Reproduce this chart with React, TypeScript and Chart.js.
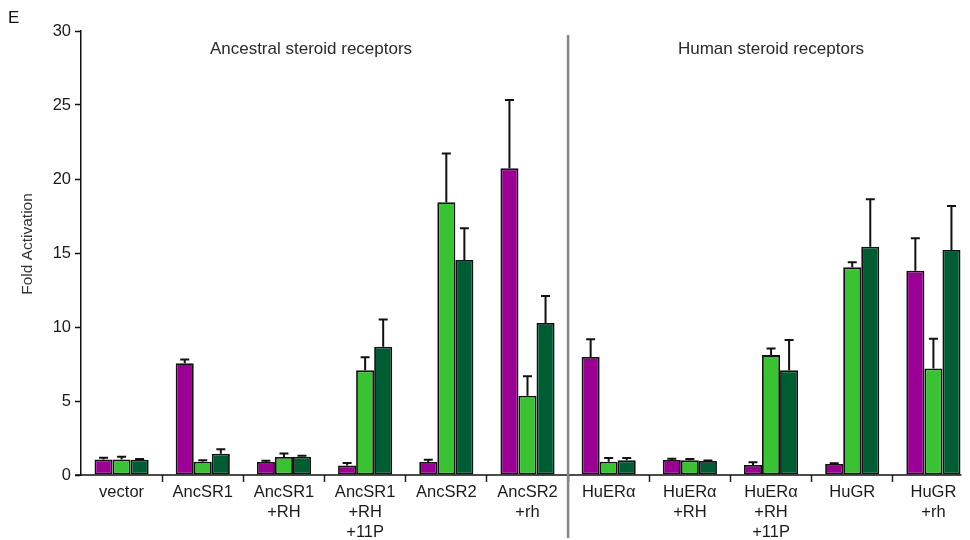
import React, { useEffect, useRef } from "react";
import { Chart, registerables } from "chart.js";

Chart.register(...registerables);

const categories: (string | string[])[] = [
  "vector",
  "AncSR1",
  ["AncSR1", "+RH"],
  ["AncSR1", "+RH", "+11P"],
  "AncSR2",
  ["AncSR2", "+rh"],
  "HuERα",
  ["HuERα", "+RH"],
  ["HuERα", "+RH", "+11P"],
  "HuGR",
  ["HuGR", "+rh"],
];

const magentaValues = [1.05, 7.55, 0.88, 0.65, 0.88, 20.72, 7.97, 1.01, 0.68, 0.74, 13.8];
const magentaErrors = [0.12, 0.25, 0.09, 0.16, 0.15, 4.62, 1.2, 0.09, 0.18, 0.06, 2.2];
const lightGreenValues = [1.05, 0.9, 1.22, 7.07, 18.43, 5.36, 0.9, 0.99, 8.1, 14.03, 7.2];
const lightGreenErrors = [0.18, 0.1, 0.24, 0.88, 3.3, 1.31, 0.25, 0.09, 0.44, 0.34, 2.01];
const darkGreenValues = [1.03, 1.44, 1.24, 8.67, 14.53, 10.27, 0.99, 0.95, 7.07, 15.43, 15.2];
const darkGreenErrors = [0.05, 0.3, 0.06, 1.83, 2.14, 1.83, 0.16, 0.03, 2.05, 3.2, 2.98];

const yTicks = [0, 5, 10, 15, 20, 25, 30];
const groupTitles = ["Ancestral steroid receptors", "Human steroid receptors"];
const yTitle = "Fold Activation";
const panelLetter = "E";

const FONT = "'Liberation Sans', Arial, sans-serif";

const errorBarPlugin = {
  id: "errorBars",
  afterDatasetsDraw(chart: any) {
    const ctx = chart.ctx;
    const yScale = chart.scales.y;
    const errs = [magentaErrors, lightGreenErrors, darkGreenErrors];
    ctx.save();
    ctx.strokeStyle = "#111";
    ctx.lineWidth = 2;
    chart.data.datasets.forEach((ds: any, i: number) => {
      const meta = chart.getDatasetMeta(i);
      meta.data.forEach((el: any, j: number) => {
        const v = ds.data[j];
        const e = errs[i][j];
        const yTop = yScale.getPixelForValue(v);
        const yErr = yScale.getPixelForValue(v + e);
        ctx.beginPath();
        ctx.moveTo(el.x, yTop);
        ctx.lineTo(el.x, yErr);
        ctx.moveTo(el.x - 4.5, yErr);
        ctx.lineTo(el.x + 4.5, yErr);
        ctx.stroke();
      });
    });
    ctx.restore();
  },
};

const decorPlugin = {
  id: "decor",
  afterDraw(chart: any) {
    const ctx = chart.ctx;
    const xs = chart.scales.x;
    const area = chart.chartArea;
    ctx.save();
    // x axis line
    const lastMeta = chart.getDatasetMeta(2);
    const lastBar = lastMeta.data[lastMeta.data.length - 1];
    const xEnd = lastBar.x + lastBar.width / 2 + 1;
    ctx.strokeStyle = "#111";
    ctx.lineWidth = 1.5;
    ctx.beginPath();
    ctx.moveTo(area.left - 6, area.bottom);
    ctx.lineTo(xEnd, area.bottom);
    ctx.stroke();
    // divider
    const xDiv = (xs.getPixelForValue(5) + xs.getPixelForValue(6)) / 2;
    ctx.strokeStyle = "#858585";
    ctx.lineWidth = 2.5;
    ctx.beginPath();
    ctx.moveTo(xDiv, 35);
    ctx.lineTo(xDiv, 538);
    ctx.stroke();
    // texts
    ctx.fillStyle = "#2a2a2a";
    ctx.font = `17px ${FONT}`;
    ctx.textAlign = "center";
    ctx.textBaseline = "middle";
    ctx.fillText(groupTitles[0], 311, 49);
    ctx.fillText(groupTitles[1], 771, 49);
    ctx.font = `17px ${FONT}`;
    ctx.textAlign = "left";
    ctx.fillStyle = "#111";
    ctx.fillText(panelLetter, 8, 18);
    ctx.save();
    ctx.translate(28, 244);
    ctx.rotate(-Math.PI / 2);
    ctx.textAlign = "center";
    ctx.fillStyle = "#333";
    ctx.font = `15.5px ${FONT}`;
    ctx.fillText(yTitle, 0, 0);
    ctx.restore();
    ctx.restore();
  },
};

export default function App() {
  const ref = useRef<HTMLCanvasElement>(null);
  useEffect(() => {
    if (!ref.current) return;
    const barCommon = {
      borderColor: "#111",
      borderWidth: 1.8,
      borderSkipped: false,
      categoryPercentage: 0.667,
      barPercentage: 1.0,
    };
    const chart = new Chart(ref.current, {
      type: "bar",
      data: {
        labels: categories as any,
        datasets: [
          { label: "magenta", data: magentaValues, backgroundColor: "#990093", ...barCommon },
          { label: "light", data: lightGreenValues, backgroundColor: "#3ac234", ...barCommon },
          { label: "dark", data: darkGreenValues, backgroundColor: "#005c33", ...barCommon },
        ] as any,
      },
      options: {
        animation: false,
        responsive: false,
        devicePixelRatio: 1,
        layout: { padding: { left: 0, right: 16, top: 31, bottom: 0 } },
        plugins: {
          legend: { display: false },
          tooltip: { enabled: false },
          title: { display: false },
        },
        scales: {
          x: {
            type: "category",
            offset: true,
            border: { display: false },
            grid: {
              display: true,
              drawOnChartArea: false,
              offset: true,
              tickLength: 7,
              tickWidth: 1.5,
              tickColor: (c: any) => (c.index === 0 ? "rgba(0,0,0,0)" : "#222"),
            } as any,
            ticks: {
              color: "#1a1a1a",
              font: { family: FONT, size: 16.5, lineHeight: 1.2 },
              padding: 1,
              maxRotation: 0,
              autoSkip: false,
            },
            afterFit: (s: any) => {
              s.height = 65;
            },
          },
          y: {
            min: 0,
            max: 30,
            afterBuildTicks: (s: any) => {
              s.ticks = yTicks.map((v) => ({ value: v }));
            },
            border: { display: true, color: "#111", width: 1.5 },
            grid: {
              drawOnChartArea: false,
              tickLength: 6,
              tickWidth: 1.5,
              tickColor: "#111",
            },
            ticks: {
              color: "#1a1a1a",
              font: { family: FONT, size: 16.5 },
              padding: 4,
            },
            afterFit: (s: any) => {
              s.width = 81;
            },
          },
        },
      } as any,
      plugins: [errorBarPlugin, decorPlugin],
    });
    return () => chart.destroy();
  }, []);
  return (
    <div
      style={{
        position: "absolute",
        left: 0,
        top: 0,
        width: 970,
        height: 540,
        overflow: "hidden",
        background: "#fff",
      }}
    >
      <canvas ref={ref} width={990} height={540} style={{ display: "block" }} />
    </div>
  );
}
